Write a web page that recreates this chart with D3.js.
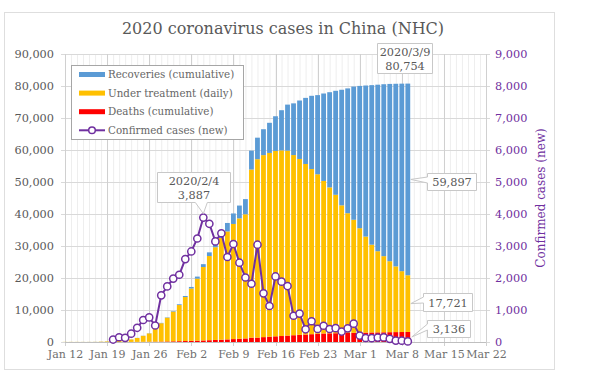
<!DOCTYPE html>
<html>
<head>
<meta charset="utf-8">
<title>2020 coronavirus cases in China (NHC)</title>
<style>
  html, body { margin: 0; padding: 0; background: #fff; }
  #chart { width: 589px; height: 377px; }
  #chart text { font-family: 'DejaVu Serif', serif; }
</style>
</head>
<body>
<div id="chart"></div>
<script src="https://cdnjs.cloudflare.com/ajax/libs/d3/7.8.5/d3.min.js"></script>
<script>
  // one entry per day, 2020-01-12 .. 2020-03-09
  const firstDay = new Date(2020, 0, 12);

  const deaths = [
    1, 1, 1, 2, 2, 2, 2, 3,
    6, 9, 17, 25, 41, 56, 80, 106, 132, 170, 213, 259,
    304, 361, 425, 490, 563, 636, 722, 811, 908, 1016, 1113, 1367, 1380, 1523, 1665,
    1770, 1868, 2004, 2118, 2236, 2345, 2442, 2592, 2663, 2715, 2744, 2788, 2835, 2870,
    2912, 2943, 2981, 3012, 3042, 3070, 3097, 3119, 3136
  ];

  const underTreatment = [
    35, 33, 33, 27, 28, 41, 94, 170,
    260, 403, 526, 771, 1208, 1870, 2613, 4349, 5739, 7417, 9308, 11289,
    13748, 16369, 19381, 22942, 26302, 28985, 31774, 33738, 35982, 37626, 38800, 52526, 55748, 56873, 57416,
    57934, 58016, 57805, 56303, 54965, 53284, 51606, 49824, 47672, 45604, 43258, 39919, 37414, 35329,
    32652, 30004, 27433, 25352, 23784, 22177, 20533, 19016, 17721
  ];

  const recoveries = [
    5, 7, 7, 12, 15, 19, 25, 25,
    25, 28, 28, 34, 38, 49, 51, 60, 103, 124, 171, 243,
    328, 475, 632, 892, 1153, 1540, 2050, 2649, 3281, 3996, 4740, 5911, 6723, 8096, 9419,
    10844, 12552, 14376, 16155, 18264, 20659, 22888, 24734, 27323, 29745, 32495, 36117, 39002, 41625,
    44462, 47204, 49856, 52045, 53726, 55404, 57065, 58600, 59897
  ];

  const newCases = [
    null, null, null, null, null, null, null, null,
    77, 149, 131, 259, 444, 688, 769, 515, 1459, 1737, 1982, 2102,
    2590, 2829, 3235, 3887, 3694, 3143, 3399, 2656, 3062, 2478, 2015, 1820, 3040, 1520, 1125,
    2048, 1886, 1749, 820, 889, 397, 648, 409, 508, 406, 433, 327, 427, 573,
    202, 125, 119, 139, 143, 99, 44, 40, 19
  ];

  const xTickLabels = ['Jan 12', 'Jan 19', 'Jan 26', 'Feb 2', 'Feb 9', 'Feb 16', 'Feb 23', 'Mar 1', 'Mar 8', 'Mar 15', 'Mar 22'];
  const leftTicks = [0, 10000, 20000, 30000, 40000, 50000, 60000, 70000, 80000, 90000];
  const rightTicks = [0, 1000, 2000, 3000, 4000, 5000, 6000, 7000, 8000, 9000];

  const seriesNames = ['Recoveries (cumulative)', 'Under treatment (daily)', 'Deaths (cumulative)', 'Confirmed cases (new)'];

  const colors = { rec: '#5b9bd5', treat: '#ffc000', death: '#ff0000', line: '#7030a0' };

  const days = deaths.map((d, i) => d3.timeDay.offset(firstDay, i));
  const rows = days.map((day, i) => ({
    day: day, death: deaths[i], treat: underTreatment[i], rec: recoveries[i], cases: newCases[i]
  }));

  const W = 589, H = 377;
  const plotLeft = 65, plotRight = 486, plotTop = 54, plotBottom = 342;

  const svg = d3.select('#chart').append('svg')
    .attr('width', W)
    .attr('height', H);

  svg.append('rect')
    .attr('x', 4.5).attr('y', 12.5)
    .attr('width', 550).attr('height', 357)
    .attr('fill', '#fff')
    .attr('stroke', '#dedede');

  const x = d3.scaleTime()
    .domain([firstDay, new Date(2020, 2, 22)])
    .range([plotLeft, plotRight]);

  const y = d3.scaleLinear().domain([0, 90000]).range([plotBottom, plotTop]);
  const y2 = d3.scaleLinear().domain([0, 9000]).range([plotBottom, plotTop]);

  const weekTicks = d3.timeDay.range(firstDay, new Date(2020, 2, 23), 7);
  const dayTicks = d3.timeDay.range(firstDay, new Date(2020, 2, 23));

  // grid
  const grid = svg.append('g');
  grid.selectAll('.minor')
    .data(dayTicks)
    .enter()
    .append('line')
    .attr('x1', d => x(d) + 0.5).attr('x2', d => x(d) + 0.5)
    .attr('y1', plotTop).attr('y2', plotBottom)
    .attr('stroke', '#eeeeee');

  grid.selectAll('.hgrid')
    .data(leftTicks)
    .enter()
    .append('line')
    .attr('x1', plotLeft - 4).attr('x2', plotRight + 4)
    .attr('y1', d => Math.round(y(d)) + 0.5).attr('y2', d => Math.round(y(d)) + 0.5)
    .attr('stroke', '#d9d9d9');

  grid.selectAll('.major')
    .data(weekTicks)
    .enter()
    .append('line')
    .attr('x1', d => Math.round(x(d)) + 0.5).attr('x2', d => Math.round(x(d)) + 0.5)
    .attr('y1', plotTop).attr('y2', plotBottom + 4)
    .attr('stroke', '#d0d0d0');

  // stacked bars
  const stack = d3.stack().keys(['death', 'treat', 'rec'])(rows);
  const bw = 4.8;

  svg.append('g')
    .selectAll('g')
    .data(stack)
    .enter()
    .append('g')
    .attr('fill', d => colors[d.key])
    .selectAll('rect')
    .data(d => d)
    .enter()
    .append('rect')
    .attr('x', d => x(d.data.day) - bw / 2)
    .attr('y', d => y(d[1]))
    .attr('width', bw)
    .attr('height', d => y(d[0]) - y(d[1]));

  // axis line
  svg.append('line')
    .attr('x1', plotLeft).attr('x2', plotRight)
    .attr('y1', plotBottom + 0.5).attr('y2', plotBottom + 0.5)
    .attr('stroke', '#bfbfbf');

  // left axis
  const yAxis = d3.axisLeft(y)
    .tickValues(leftTicks)
    .tickFormat(d3.format(','))
    .tickSize(0)
    .tickPadding(11);

  const gy = svg.append('g')
    .attr('transform', `translate(${plotLeft},0)`)
    .call(yAxis);
  gy.select('.domain').remove();
  gy.selectAll('text').attr('fill', '#595959').style('font-size', '11.3px');

  // right axis
  const y2Axis = d3.axisRight(y2)
    .tickValues(rightTicks)
    .tickFormat(d3.format(','))
    .tickSize(0)
    .tickPadding(9);

  const gy2 = svg.append('g')
    .attr('transform', `translate(${plotRight},0)`)
    .call(y2Axis);
  gy2.select('.domain').remove();
  gy2.selectAll('text').attr('fill', colors.line).style('font-size', '11.3px');

  svg.append('text')
    .attr('transform', `translate(545,${(plotTop + plotBottom) / 2}) rotate(-90)`)
    .attr('text-anchor', 'middle')
    .attr('fill', colors.line)
    .style('font-size', '12px')
    .text('Confirmed cases (new)');

  // x axis
  const xAxis = d3.axisBottom(x)
    .tickValues(weekTicks)
    .tickFormat((d, i) => xTickLabels[i])
    .tickSize(0)
    .tickPadding(8);

  const gx = svg.append('g')
    .attr('transform', `translate(0,${plotBottom})`)
    .call(xAxis);
  gx.select('.domain').remove();
  gx.selectAll('text').attr('fill', '#6f6f6f').style('font-size', '11px');

  // new cases line
  const line = d3.line()
    .defined(d => d.cases !== null)
    .x(d => x(d.day))
    .y(d => y2(d.cases));

  svg.append('path')
    .datum(rows)
    .attr('fill', 'none')
    .attr('stroke', colors.line)
    .attr('stroke-width', 2)
    .attr('d', line);

  svg.append('g')
    .selectAll('circle')
    .data(rows.filter(d => d.cases !== null))
    .enter()
    .append('circle')
    .attr('cx', d => x(d.day))
    .attr('cy', d => y2(d.cases))
    .attr('r', 3.6)
    .attr('fill', '#fff')
    .attr('stroke', colors.line)
    .attr('stroke-width', 1.5);

  // title
  svg.append('text')
    .attr('x', 283)
    .attr('y', 34)
    .attr('text-anchor', 'middle')
    .attr('fill', '#595959')
    .style('font-size', '16px')
    .text('2020 coronavirus cases in China (NHC)');

  // legend
  const legend = svg.append('g').attr('transform', 'translate(71,65)');
  legend.append('rect')
    .attr('x', 0.5).attr('y', 0.5)
    .attr('width', 172).attr('height', 74)
    .attr('fill', '#fff')
    .attr('stroke', '#a6a6a6');

  const legendColors = [colors.rec, colors.treat, colors.death, colors.line];
  seriesNames.forEach((name, i) => {
    const ly = 9.5 + i * 18.6;
    if (i < 3) {
      legend.append('rect')
        .attr('x', 8).attr('y', ly - 2.5)
        .attr('width', 26).attr('height', 5)
        .attr('fill', legendColors[i]);
    } else {
      legend.append('line')
        .attr('x1', 8).attr('x2', 34)
        .attr('y1', ly).attr('y2', ly)
        .attr('stroke', colors.line)
        .attr('stroke-width', 2);
      legend.append('circle')
        .attr('cx', 21).attr('cy', ly).attr('r', 3.3)
        .attr('fill', '#fff')
        .attr('stroke', colors.line)
        .attr('stroke-width', 1.5);
    }
    legend.append('text')
      .attr('x', 37).attr('y', ly + 3.6)
      .attr('fill', '#666')
      .style('font-size', '10.3px')
      .text(name);
  });

  // callouts
  const fmt = d3.format(',');
  const last = rows[rows.length - 1];
  const peak = rows.find(d => d.cases === 3887);

  function callout(box, lines, tail) {
    const g = svg.append('g');
    const [x0, y0, w, h] = box;
    let p = `M${x0},${y0}H${x0 + w}V${y0 + h}`;
    if (tail && tail.side === 'bottom') {
      p += `H${tail.b1}L${tail.tx},${tail.ty}L${tail.b0},${y0 + h}H${x0}Z`;
    } else if (tail && tail.side === 'left') {
      p += `H${x0}V${tail.b1}L${tail.tx},${tail.ty}L${x0},${tail.b0}Z`;
    } else {
      p += `H${x0}Z`;
    }
    g.append('path')
      .attr('d', p)
      .attr('fill', '#fff')
      .attr('stroke', '#c8c8c8');
    lines.forEach((t, i) => {
      g.append('text')
        .attr('x', x0 + w / 2)
        .attr('y', y0 + (lines.length === 1 ? h / 2 + 4 : 12.5 + i * 13.5))
        .attr('text-anchor', 'middle')
        .attr('fill', '#595959')
        .style('font-size', '11.3px')
        .text(t);
    });
  }

  const px = x(peak.day), py = y2(peak.cases);
  callout([157.5, 172.5, 73, 30], ['2020/2/4', fmt(peak.cases)],
    { side: 'bottom', b0: px - 8, b1: px + 4, tx: px, ty: py - 4 });

  const lx = x(last.day);
  callout([377.5, 43.5, 55, 30], ['2020/3/9', fmt(last.death + last.treat + last.rec)]);

  const recMid = y(last.death + last.treat + last.rec / 2);
  callout([427.5, 173.5, 49, 17], [fmt(last.rec)],
    { side: 'left', b0: 177, b1: 183, tx: lx + 3, ty: recMid });

  const treatMid = y(last.death + last.treat / 2);
  callout([423.5, 293.5, 49, 18], [fmt(last.treat)],
    { side: 'left', b0: 297, b1: 303, tx: lx + 3, ty: treatMid });

  const deathMid = y(last.death / 2);
  callout([427.5, 320.5, 43, 17], [fmt(last.death)],
    { side: 'left', b0: 324, b1: 330, tx: lx + 4, ty: deathMid });
</script>
</body>
</html>
